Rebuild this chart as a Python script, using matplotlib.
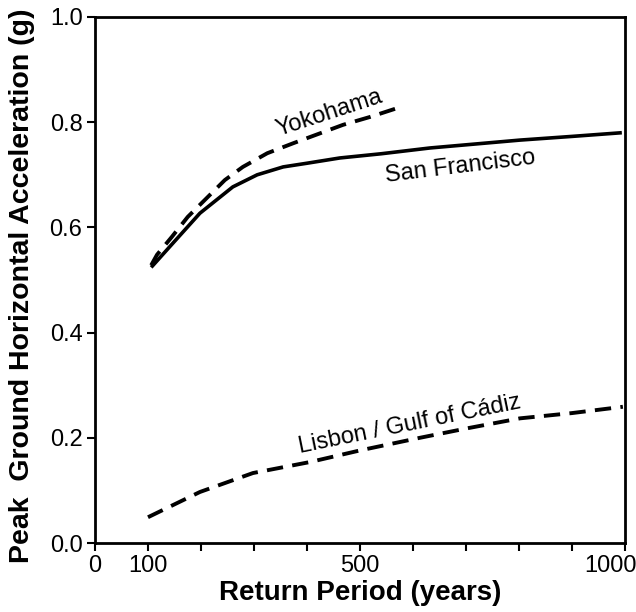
import matplotlib
matplotlib.use("Agg")
import matplotlib.pyplot as plt
from matplotlib.transforms import ScaledTranslation

plt.rcParams['font.family'] = ['Liberation Sans', 'DejaVu Sans']

# Data (return period in years, PGA in g)
sf_years = [106, 147, 198, 260, 306, 355, 400, 462, 540, 632, 700, 802, 900, 994]
sf_pga = [0.524, 0.570, 0.627, 0.677, 0.700, 0.715, 0.722, 0.732, 0.740, 0.751, 0.757, 0.766, 0.773, 0.780]

yk_years = [106, 117, 145, 175, 211, 245, 279, 325, 374, 425, 468, 519, 577]
yk_pga = [0.528, 0.548, 0.582, 0.620, 0.656, 0.690, 0.715, 0.741, 0.760, 0.779, 0.795, 0.810, 0.829]

lis_years = [100, 198, 298, 406, 500, 613, 702, 802, 900, 996]
lis_pga = [0.049, 0.097, 0.133, 0.154, 0.176, 0.200, 0.218, 0.237, 0.247, 0.259]

x_ticks = [0, 100, 200, 300, 400, 500, 600, 700, 800, 900, 1000]
x_labels = ['0', '100', '', '', '', '500', '', '', '', '', '1000']
y_ticks = [0.0, 0.2, 0.4, 0.6, 0.8, 1.0]
y_labels = ['0.0', '0.2', '0.4', '0.6', '0.8', '1.0']

fig = plt.figure(figsize=(6.36, 6.12), dpi=100)
ax = fig.add_axes([95/636, 1 - 543/612, 530/636, 526/612])

ax.plot(sf_years, sf_pga, color='black', lw=2.6, solid_capstyle='butt')
ax.plot(yk_years, yk_pga, color='black', lw=2.8, dashes=(4.2, 2.4))
ax.plot(lis_years, lis_pga, color='black', lw=2.8, dashes=(4.2, 2.4))

ax.set_xlim(0, 1000)
ax.set_ylim(0, 1.0)
ax.set_xticks(x_ticks)
ax.set_xticklabels(x_labels)
ax.set_yticks(y_ticks)
ax.set_yticklabels(y_labels)
ax.tick_params(direction='out', length=6, width=1.5, labelsize=17, pad=3)
for s in ax.spines.values():
    s.set_linewidth(2)

# shift the last x tick label slightly left (as in the reference)
last = ax.get_xticklabels()[-1]
last.set_transform(last.get_transform() + ScaledTranslation(-15/100, 0, fig.dpi_scale_trans))

ax.set_xlabel('Return Period (years)', fontsize=20, fontweight='bold', labelpad=2)
ax.set_ylabel('Peak  Ground Horizontal Acceleration (g)', fontsize=20.5, fontweight='bold')
ax.yaxis.set_label_coords(-0.113, 0.4886)

ax.text(443, 0.817, 'Yokohama', fontsize=17, rotation=18, ha='center', va='center')
ax.text(689, 0.715, 'San Francisco', fontsize=17, rotation=7, ha='center', va='center')
ax.text(594, 0.226, 'Lisbon / Gulf of Cádiz', fontsize=17, rotation=11.5, ha='center', va='center')

fig.savefig('out.png', dpi=100)
